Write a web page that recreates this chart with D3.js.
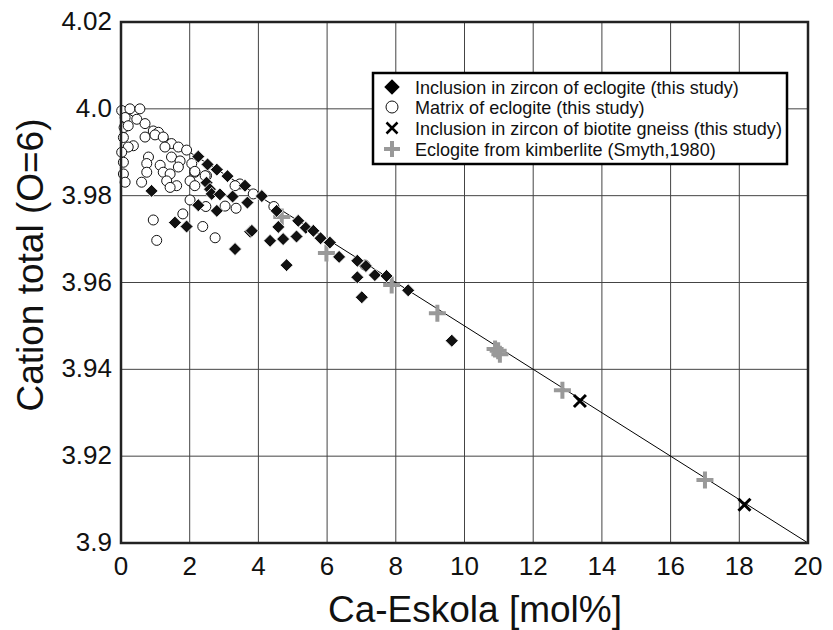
<!DOCTYPE html>
<html>
<head>
<meta charset="utf-8">
<script src="https://cdn.jsdelivr.net/npm/d3@7"></script>
<style>
  body { margin: 0; background: #fff; }
  text { font-family: "Liberation Sans", Arial, Helvetica, sans-serif; fill: #111; }
</style>
</head>
<body>
<svg id="chart" width="833" height="630"></svg>
<script>
// data: [Ca-Eskola mol%, cation total]
var zirconEclogite = [
  [0.89,3.9811],[2.25,3.9890],[2.52,3.9872],[2.79,3.9860],[3.10,3.9845],[3.61,3.9823],
  [4.10,3.9799],[2.49,3.9830],[2.59,3.9815],[2.64,3.9804],[2.88,3.9803],[3.25,3.9798],
  [3.68,3.9784],[2.25,3.9778],[2.79,3.9765],[4.53,3.9765],[5.16,3.9742],[5.38,3.9726],
  [5.60,3.9719],[5.81,3.9702],[6.08,3.9692],[6.35,3.9659],[6.88,3.9650],[7.13,3.9638],
  [7.39,3.9617],[7.73,3.9615],[8.36,3.9582],[6.88,3.9612],[7.01,3.9566],[1.57,3.9738],
  [1.91,3.9729],[3.32,3.9677],[3.76,3.9717],[3.81,3.9719],[4.58,3.9728],[4.34,3.9696],
  [4.72,3.9700],[5.11,3.9706],[4.82,3.9640],[9.63,3.9466]
];
var matrixEclogite = [
  [0.02,3.9996],[0.26,4.0000],[0.55,4.0000],[0.12,3.9980],[0.46,3.9976],[0.70,3.9966],
  [0.09,3.9957],[0.21,3.9961],[0.94,3.9949],[1.09,3.9946],[0.07,3.9934],[0.70,3.9935],
  [0.99,3.9940],[1.23,3.9935],[1.47,3.9920],[0.36,3.9915],[0.21,3.9912],[1.28,3.9912],
  [1.67,3.9912],[1.91,3.9905],[0.02,3.9900],[0.07,3.9877],[0.80,3.9889],[1.47,3.9889],
  [1.72,3.9880],[2.06,3.9874],[0.75,3.9874],[1.14,3.9870],[1.67,3.9866],[1.23,3.9854],
  [0.75,3.9854],[1.43,3.9850],[0.07,3.9850],[2.15,3.9854],[0.60,3.9831],[0.12,3.9831],
  [1.33,3.9834],[1.62,3.9823],[1.43,3.9819],[2.01,3.9834],[2.49,3.9846],[2.15,3.9823],
  [2.01,3.9790],[0.94,3.9744],[1.04,3.9697],[1.80,3.9758],[2.38,3.9729],[2.74,3.9703],
  [2.47,3.9775],[3.03,3.9776],[3.35,3.9771],[2.15,3.9856],[2.45,3.9846],[3.46,3.9827],
  [3.85,3.9804],[3.32,3.9823],[4.45,3.9775],[7.10,3.9640]
];
var zirconGneiss = [[13.36,3.9327],[18.15,3.9088]];
var kimberlite = [
  [4.68,3.9751],[5.98,3.9668],[7.88,3.9594],[9.21,3.9529],[10.89,3.9447],
  [10.98,3.9443],[11.03,3.9435],[12.85,3.9352],[17.0,3.9145]
];
var refLine = [[0,4.0],[20,3.9]];

var xTicks = [0,2,4,6,8,10,12,14,16,18,20];
var yTicks = [3.9,3.92,3.94,3.96,3.98,4.0,4.02];
var yTickLabels = ["3.9","3.92","3.94","3.96","3.98","4.0","4.02"];
var legendLabels = [
  "Inclusion in zircon of eclogite (this study)",
  "Matrix of eclogite (this study)",
  "Inclusion in zircon of biotite gneiss (this study)",
  "Eclogite from kimberlite (Smyth,1980)"
];

var svg = d3.select("#chart");
var pLeft = 121, pRight = 808, pTop = 22, pBottom = 543;

var x = d3.scaleLinear().domain([0, 20]).range([pLeft, pRight]);
var y = d3.scaleLinear().domain([3.9, 4.02]).range([pBottom, pTop]);

// grid
var grid = svg.append("g").attr("stroke", "#444").attr("stroke-width", 1);
grid.selectAll(".vg").data(xTicks).enter().append("line")
  .attr("x1", function(d){ return x(d); }).attr("x2", function(d){ return x(d); })
  .attr("y1", pTop).attr("y2", pBottom);
grid.selectAll(".hg").data(yTicks).enter().append("line")
  .attr("x1", pLeft).attr("x2", pRight)
  .attr("y1", function(d){ return y(d); }).attr("y2", function(d){ return y(d); });

// tick labels
svg.append("g").selectAll("text").data(xTicks).enter().append("text")
  .attr("x", function(d){ return x(d); }).attr("y", pBottom + 32)
  .attr("text-anchor", "middle").attr("font-size", 26)
  .text(function(d){ return d; });
svg.append("g").selectAll("text").data(yTicks).enter().append("text")
  .attr("x", pLeft - 9).attr("y", function(d){ return y(d) + 8; })
  .attr("text-anchor", "end").attr("font-size", 26)
  .text(function(d, i){ return yTickLabels[i]; });

// axis titles
svg.append("text").attr("x", 475).attr("y", 622)
  .attr("text-anchor", "middle").attr("font-size", 37)
  .text("Ca-Eskola [mol%]");
svg.append("text").attr("transform", "translate(43,265) rotate(-90)")
  .attr("text-anchor", "middle").attr("font-size", 37)
  .text("Cation total (O=6)");

// reference line
svg.append("path").datum(refLine)
  .attr("d", d3.line().x(function(d){ return x(d[0]); }).y(function(d){ return y(d[1]); }))
  .attr("stroke", "#000").attr("stroke-width", 1).attr("fill", "none");

function drawPlus(g, data, size, color, w) {
  g.selectAll(".p").data(data).enter().append("path")
    .attr("transform", function(d){ return "translate(" + x(d[0]) + "," + y(d[1]) + ")"; })
    .attr("d", "M" + (-size) + ",0H" + size + "M0," + (-size) + "V" + size)
    .attr("stroke", color).attr("stroke-width", w).attr("fill", "none");
}

var plot = svg.append("g");
drawPlus(plot.append("g"), kimberlite, 8.5, "#999", 4);

plot.append("g").selectAll("circle").data(matrixEclogite).enter().append("circle")
  .attr("cx", function(d){ return x(d[0]); }).attr("cy", function(d){ return y(d[1]); })
  .attr("r", 5).attr("fill", "#fff").attr("stroke", "#111").attr("stroke-width", 1);

var diamond = d3.symbol().type(d3.symbolSquare).size(84);
plot.append("g").selectAll("path").data(zirconEclogite).enter().append("path")
  .attr("transform", function(d){ return "translate(" + x(d[0]) + "," + y(d[1]) + ") rotate(45)"; })
  .attr("d", diamond).attr("fill", "#111").attr("stroke", "#fff").attr("stroke-width", 0.8);

plot.append("g").selectAll("path").data(zirconGneiss).enter().append("path")
  .attr("transform", function(d){ return "translate(" + x(d[0]) + "," + y(d[1]) + ")"; })
  .attr("d", "M-6,-6L6,6M-6,6L6,-6")
  .attr("stroke", "#000").attr("stroke-width", 3).attr("fill", "none");

// frame
svg.append("rect").attr("x", pLeft).attr("y", pTop)
  .attr("width", pRight - pLeft).attr("height", pBottom - pTop)
  .attr("fill", "none").attr("stroke", "#222").attr("stroke-width", 2.5);

// legend
var lg = svg.append("g");
lg.append("rect").attr("x", 373).attr("y", 73).attr("width", 414).attr("height", 91)
  .attr("fill", "#fff").attr("stroke", "#000").attr("stroke-width", 2.5);
var rowY = [87, 107, 128, 149];
lg.selectAll("text").data(legendLabels).enter().append("text")
  .attr("transform", function(d, i){ return "translate(415," + (rowY[i] + 7) + ") scale(0.95,1)"; })
  .attr("font-size", 19)
  .text(function(d){ return d; });
lg.append("path").attr("transform", "translate(392," + rowY[0] + ") rotate(45)")
  .attr("d", d3.symbol().type(d3.symbolSquare).size(120)).attr("fill", "#000");
lg.append("circle").attr("cx", 392).attr("cy", rowY[1]).attr("r", 6)
  .attr("fill", "#fff").attr("stroke", "#111").attr("stroke-width", 1);
lg.append("path").attr("transform", "translate(392," + rowY[2] + ")")
  .attr("d", "M-5.5,-5.5L5.5,5.5M-5.5,5.5L5.5,-5.5")
  .attr("stroke", "#000").attr("stroke-width", 2.5);
lg.append("path").attr("transform", "translate(392," + rowY[3] + ")")
  .attr("d", "M-8,0H8M0,-8V8")
  .attr("stroke", "#999").attr("stroke-width", 4);
</script>
</body>
</html>
